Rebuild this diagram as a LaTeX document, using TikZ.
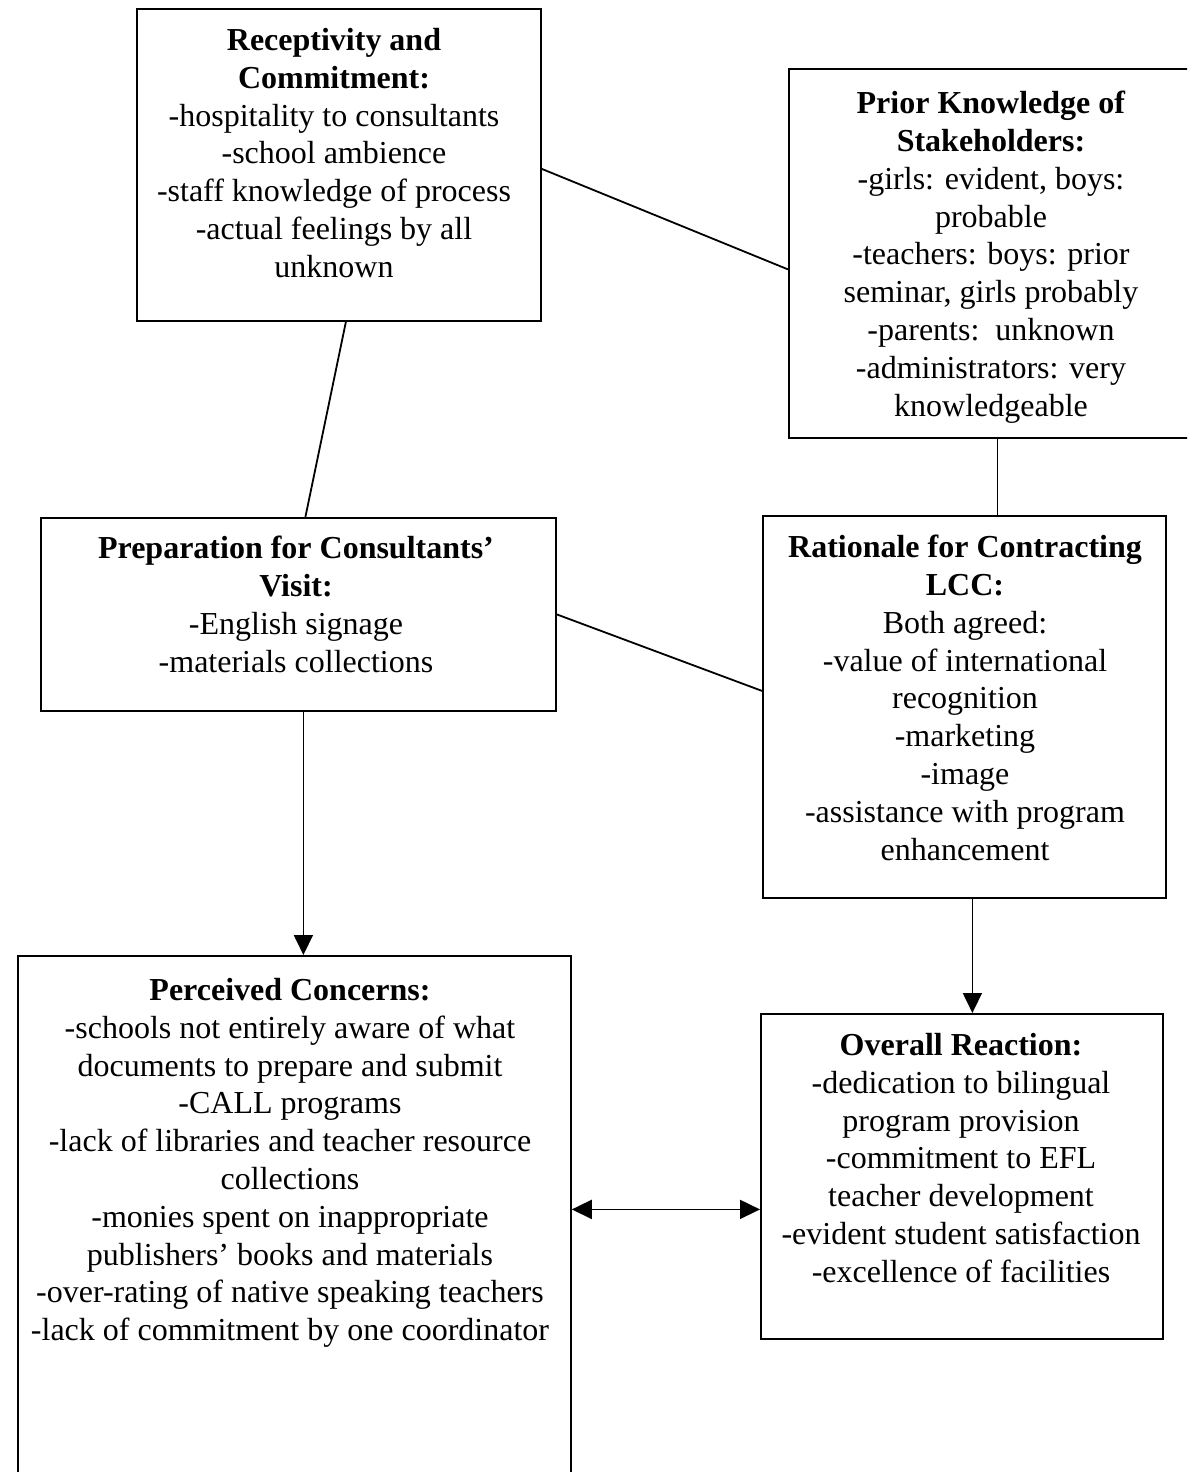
\documentclass[tikz,border=0pt]{standalone}
\usepackage{fontspec}
\setmainfont{Liberation Serif}
\usetikzlibrary{arrows.meta,calc}
\tikzset{
  box/.style={draw, line width=1.8pt, inner sep=0pt, anchor=north west},
  txt/.style={align=center, inner sep=0pt, anchor=north, font=\fontsize{32}{37.8}\selectfont},
  link/.style={line width=1.8pt},
  arr/.style={link, -{Triangle[length=20pt,width=19pt]}},
  darr/.style={link, {Triangle[length=20pt,width=19pt]}-{Triangle[length=20pt,width=19pt]}},
}
\begin{document}
\begin{tikzpicture}[x=1pt,y=-1pt]
\clip (0,0) rectangle (1187,1472);

% boxes
\node[box, minimum width=404pt, minimum height=312pt] (b1) at (136,8) {};
\node[box, minimum width=411pt, minimum height=369pt] (b2) at (788,68) {};
\node[box, minimum width=515pt, minimum height=193pt] (b3) at (40,517) {};
\node[box, minimum width=403pt, minimum height=382pt] (b4) at (762,515) {};
\node[box, minimum width=553pt, minimum height=560pt] (b5) at (17,955) {};
\node[box, minimum width=402pt, minimum height=325pt] (b6) at (760,1013) {};

% box texts
\node[txt] (t1) at (334,28) {\textbf{Receptivity and}\\\textbf{Commitment:}\\-hospitality to consultants\\-school ambience\\-staff knowledge of process\\-actual feelings by all\\unknown};
\node[txt] (t2) at (991,91) {\textbf{Prior Knowledge of}\\\textbf{Stakeholders:}\\-girls: evident, boys:\\probable\\-teachers: boys: prior\\seminar, girls probably\\-parents:~~unknown\\-administrators: very\\knowledgeable};
\node[txt] (t3) at (296,536) {\textbf{Preparation for Consultants’}\\\textbf{Visit:}\\-English signage\\-materials collections};
\node[txt] (t4) at (965,535) {\textbf{Rationale for Contracting}\\\textbf{LCC:}\\Both agreed:\\-value of international\\recognition\\-marketing\\-image\\-assistance with program\\enhancement};
\node[txt] (t5) at (290,978) {\textbf{Perceived Concerns:}\\-schools not entirely aware of what\\documents to prepare and submit\\-CALL programs\\-lack of libraries and teacher resource\\collections\\-monies spent on inappropriate\\publishers’ books and materials\\-over-rating of native speaking teachers\\-lack of commitment by one coordinator};
\node[txt] (t6) at (961,1033) {\textbf{Overall Reaction:}\\-dedication to bilingual\\program provision\\-commitment to EFL\\teacher development\\-evident student satisfaction\\-excellence of facilities};

% connectors
\draw[link] ([yshift=-4pt]b1.east) -- ([yshift=-16pt]b2.west);
\draw[link] ([xshift=7pt]b1.south) -- ([xshift=7pt]b3.north);
\draw[link] ([xshift=3pt]b2.south) coordinate (p2) -- (p2 |- b4.north);
\draw[link] (b3.east) -- ([yshift=16pt]b4.west);
\draw[arr] ([xshift=5pt]b3.south) coordinate (p3) -- (p3 |- b5.north);
\draw[arr] ([xshift=8pt]b4.south) coordinate (p4) -- (p4 |- b6.north);
\coordinate (m6) at ([yshift=-33pt]b6.west);
\draw[darr] (m6 -| b5.east) -- (m6);
\end{tikzpicture}
\end{document}
